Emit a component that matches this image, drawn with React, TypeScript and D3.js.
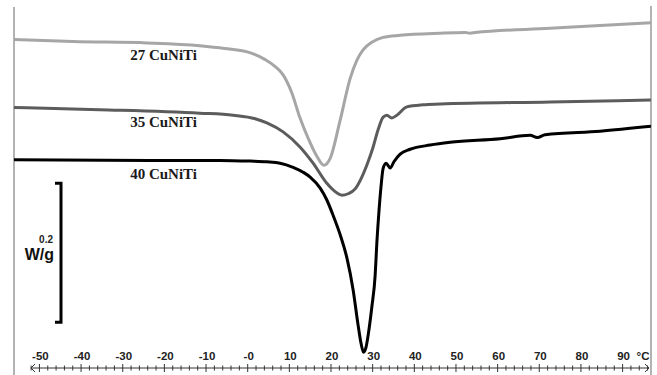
import { useMemo } from "react";
import { curveMonotoneX, line, range, scaleLinear } from "d3";

const WIDTH = 657;
const HEIGHT = 375;

// temperatures (°C) and heat flow (W/g, stacked as in the figure)
const temp27 = [-56.1, -41.9, -24.2, -11.5, -5.5, 0.5, 4.2, 6.6, 8.5, 10.6, 12.5, 14.5, 16.6, 18.3, 19.8, 22.2, 24.6, 26.2, 27.7, 29.8, 32.5, 36.6, 46.2, 52.2, 53.4, 54.6, 72.6, 96.8];
const flow27 = [-0.028, -0.031, -0.033, -0.037, -0.041, -0.047, -0.057, -0.067, -0.079, -0.105, -0.14, -0.17, -0.196, -0.209, -0.199, -0.144, -0.084, -0.058, -0.043, -0.032, -0.025, -0.022, -0.019, -0.018, -0.019, -0.018, -0.012, -0.004];

const temp35 = [-56.1, -35.5, -11.5, -3.5, 1.8, 4.6, 8.5, 12.6, 15.7, 19.0, 21.0, 22.6, 24.1, 25.8, 27.4, 28.9, 30.1, 31.3, 32.5, 33.4, 34.6, 35.8, 38.2, 42.1, 46.2, 72.6, 96.8];
const flow35 = [-0.126, -0.129, -0.134, -0.137, -0.142, -0.148, -0.161, -0.183, -0.206, -0.235, -0.247, -0.252, -0.25, -0.243, -0.226, -0.204, -0.183, -0.158, -0.14, -0.137, -0.141, -0.137, -0.125, -0.122, -0.121, -0.118, -0.115];

const temp40 = [-56.1, -23.5, -6.7, 0.6, 4.6, 7.8, 10.9, 13.3, 15.0, 17.4, 19.0, 20.5, 22.2, 23.8, 25.3, 26.5, 27.2, 27.8, 28.4, 29.1, 29.8, 30.6, 31.0, 31.5, 32.0, 32.5, 33.2, 34.2, 35.1, 36.6, 39.0, 43.8, 48.6, 60.6, 67.8, 69.5, 71.4, 84.6, 96.8];
const flow40 = [-0.201, -0.202, -0.202, -0.203, -0.204, -0.206, -0.212, -0.219, -0.226, -0.242, -0.259, -0.281, -0.309, -0.342, -0.388, -0.439, -0.465, -0.478, -0.471, -0.446, -0.413, -0.367, -0.321, -0.276, -0.24, -0.214, -0.206, -0.213, -0.204, -0.193, -0.186, -0.18, -0.176, -0.171, -0.166, -0.169, -0.165, -0.16, -0.153];

const seriesNames = ["27 CuNiTi", "35 CuNiTi", "40 CuNiTi"];
const seriesColors = ["#a6a6a6", "#5c5c5c", "#000000"];
const labelFlow = [-0.058, -0.154, -0.229];

const majorTicks = [-50, -40, -30, -20, -10, 0, 10, 20, 30, 40, 50, 60, 70, 80, 90];
const tickLabels = ["-50", "-40", "-30", "-20", "-10", "-0", "10", "20", "30", "40", "50", "60", "70", "80", "90"];
const scaleBar = [-0.235, -0.435];

export default function App() {
  const x = useMemo(() => scaleLinear().domain([0, 90]).range([247.7, 622.6]), []);
  const y = useMemo(() => scaleLinear().domain([0, -0.5]).range([20, 367.5]), []);

  const series = [
    { t: temp27, v: flow27 },
    { t: temp35, v: flow35 },
    { t: temp40, v: flow40 },
  ];
  const gen = line<number>().curve(curveMonotoneX);

  const axisY = 368;
  const minorTicks = range(-52, 97, 2).filter((t) => t % 10 !== 0);
  const labelX = x(-20.2);
  const sans = "'Liberation Sans', Arial, sans-serif";

  return (
    <svg width={WIDTH} height={HEIGHT} style={{ position: "absolute", left: 0, top: 0, background: "#fff" }}>
      <defs>
        <clipPath id="plot">
          <rect x={14} y={0} width={637} height={HEIGHT} />
        </clipPath>
      </defs>
      <line x1={14} x2={14} y1={7} y2={HEIGHT} stroke="#8a8a8a" strokeWidth={1.3} />
      <line x1={651} x2={651} y1={6} y2={HEIGHT} stroke="#8a8a8a" strokeWidth={1.3} />

      <g clipPath="url(#plot)">
        {series.map((s, i) => {
          const d = gen.x((_, j) => x(s.t[j])).y((val) => y(val))(s.v);
          return <path key={i} d={d ?? ""} fill="none" stroke={seriesColors[i]} strokeWidth={3} strokeLinejoin="round" />;
        })}
      </g>

      {seriesNames.map((name, i) => (
        <text key={name} x={labelX} y={y(labelFlow[i])} textAnchor="middle" fontFamily="'Liberation Serif', serif" fontWeight="bold" fontSize={15} fill="#1a1a1a">
          {name}
        </text>
      ))}

      {/* 0.2 W/g scale bar */}
      <path d={`M55,${y(scaleBar[0])}H61V${y(scaleBar[1])}H55`} fill="none" stroke="#000" strokeWidth={3} />
      <text x={53} y={243} textAnchor="end" fontFamily={sans} fontWeight="bold" fontSize={10} fill="#222">0.2</text>
      <text x={54} y={260} textAnchor="end" fontFamily={sans} fontWeight="bold" fontSize={16} fill="#111">W/g</text>

      {/* temperature axis */}
      <line x1={31} x2={649} y1={axisY} y2={axisY} stroke="#333" strokeWidth={1} />
      <path d={`M35,${axisY - 4}L31,${axisY}L35,${axisY + 4}`} fill="none" stroke="#333" strokeWidth={1} />
      <path d={`M645,${axisY - 4}L649,${axisY}L645,${axisY + 4}`} fill="none" stroke="#333" strokeWidth={1} />
      {minorTicks.map((t) => (
        <line key={`m${t}`} x1={x(t)} x2={x(t)} y1={axisY - 2.5} y2={axisY + 2.5} stroke="#333" strokeWidth={1} />
      ))}
      {majorTicks.map((t, i) => (
        <g key={t}>
          <line x1={x(t)} x2={x(t)} y1={axisY - 4} y2={axisY + 4} stroke="#333" strokeWidth={1} />
          <text x={x(t) + 1} y={360} textAnchor="middle" fontFamily={sans} fontWeight="bold" fontSize={11.5} fill="#222">
            {tickLabels[i]}
          </text>
        </g>
      ))}
      <text x={643} y={360} textAnchor="middle" fontFamily={sans} fontWeight="bold" fontSize={11.5} fill="#222">°C</text>
    </svg>
  );
}
